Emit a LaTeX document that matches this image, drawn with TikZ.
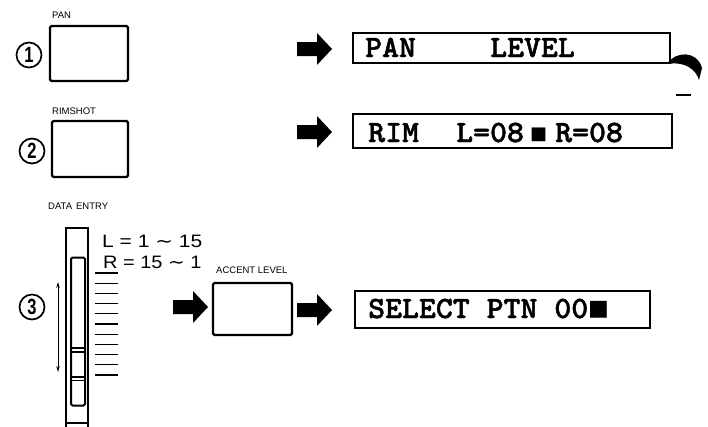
\documentclass[tikz,border=0pt]{standalone}
\usepackage{fontspec}
\setmainfont{Liberation Sans}
\newfontfamily\lcd[FakeStretch=1.04,FakeBold=1.5]{lmmonolt10-bold.otf}
\newfontfamily\dejavu{DejaVu Sans}
\usetikzlibrary{arrows.meta}
\begin{document}
\begin{tikzpicture}[x=1pt,y=-1pt,
  button/.style={draw, line width=2.4pt, rounded corners=1.5pt, inner sep=0pt},
  lcdbox/.style={draw, line width=1.4pt, inner sep=0pt},
  lcdtext/.style={anchor=base west, inner sep=0pt, font=\lcd\fontsize{31}{31}\selectfont},
  lcdsq/.style={anchor=base west, inner sep=0pt, font=\dejavu\fontsize{18}{18}\selectfont},
  keylabel/.style={anchor=base west, inner sep=0pt, font=\fontsize{9.5}{9.5}\selectfont},
  rangetext/.style={anchor=base west, inner sep=0pt, font=\fontsize{18}{18}\selectfont},
  stepnum/.style={draw, circle, line width=1.7pt, minimum size=25pt, inner sep=0pt, font=\bfseries\fontsize{22}{22}\selectfont},
  bigarrow/.pic={\fill (0,-7) -- (20,-7) -- (20,-16) -- (35,0) -- (20,16) -- (20,7) -- (0,7) -- cycle;}
]
\useasboundingbox (0,0) rectangle (708,426);

% step 1
\node[stepnum] (n1) at (29,55) {\scalebox{0.75}[1]{1}};
\node[keylabel] (l1) at (52,18) {PAN};
\node[button, minimum width=78pt, minimum height=55pt] (b1) at (89,53.5) {};
\pic at (297,49) {bigarrow};
\node[lcdbox, minimum width=317pt, minimum height=30pt] (d1) at (511.5,48) {};
\node[lcdtext] (t1a) at (365,57) {PAN};
\node[lcdtext] (t1b) at (490,57) {LEVEL};
\fill (667,64) .. controls (675,51) and (697,50) .. (702,68) -- (699,80) .. controls (696,70) and (686,61) .. (667,64) -- cycle;
\draw[line width=1.5pt] (676,95) -- (691,95);

% step 2
\node[stepnum] (n2) at (32,151) {\scalebox{0.75}[1]{2}};
\node[keylabel] (l2) at (52,114) {RIMSHOT};
\node[button, minimum width=76pt, minimum height=56pt] (b2) at (90,149) {};
\pic at (297,132) {bigarrow};
\node[lcdbox, minimum width=319pt, minimum height=34pt] (d2) at (512.5,131) {};
\node[lcdtext] (t2a) at (368,142) {RIM};
\node[lcdtext] (t2b) at (456,142) {L=08};
\node[lcdsq] (t2c) at (530,139) {■};
\node[lcdtext] (t2d) at (555,142) {R=08};

% step 3
\node[stepnum] (n3) at (32,307) {\scalebox{0.75}[1]{3}};
\node[keylabel] (l3) at (48,209) {DATA\hspace{4pt}ENTRY};
% slider
\draw[line width=2.4pt] (66,432) -- (66,228) -- (88,228) -- (88,432);
\draw[line width=1.4pt] (66,423) -- (88,423);
\node[draw, line width=2pt, rounded corners=1.5pt, minimum width=14pt, minimum height=148pt, inner sep=0pt] (slot) at (78,331.5) {};
\draw[line width=1.4pt] (71,348) -- (85,348) (71,352) -- (85,352) (71,377) -- (85,377) (71,380.5) -- (85,380.5);
\foreach \i in {0,...,10} \draw[line width=1.3pt] (95,{273+10.2*\i}) -- (118,{273+10.2*\i});
\coordinate (up) at (58,282);
\coordinate (dn) at (58,372);
\draw[{Stealth[length=6pt,width=3.5pt]}-{Stealth[length=6pt,width=3.5pt]}, line width=0.9pt] (up) -- (dn);
\node[rangetext] (r1) at (102,247) {\scalebox{1.17}[1]{L = 1 {\dejavu ∼} 15}};
\node[rangetext] (r2) at (103,268) {\scalebox{1.11}[1]{R = 15 {\dejavu ∼} 1}};
\pic at (173,307) {bigarrow};
\node[keylabel] (l4) at (216,273) {ACCENT LEVEL};
\node[button, minimum width=79pt, minimum height=52pt] (b3) at (252.5,309) {};
\pic at (297,310) {bigarrow};
\node[lcdbox, minimum width=295pt, minimum height=37pt] (d3) at (502.5,309.5) {};
\node[lcdtext] (t3) at (368,318) {SELECT PTN 00{\dejavu\fontsize{22}{22}\selectfont\raisebox{3pt}{■}}};
\end{tikzpicture}
\end{document}
